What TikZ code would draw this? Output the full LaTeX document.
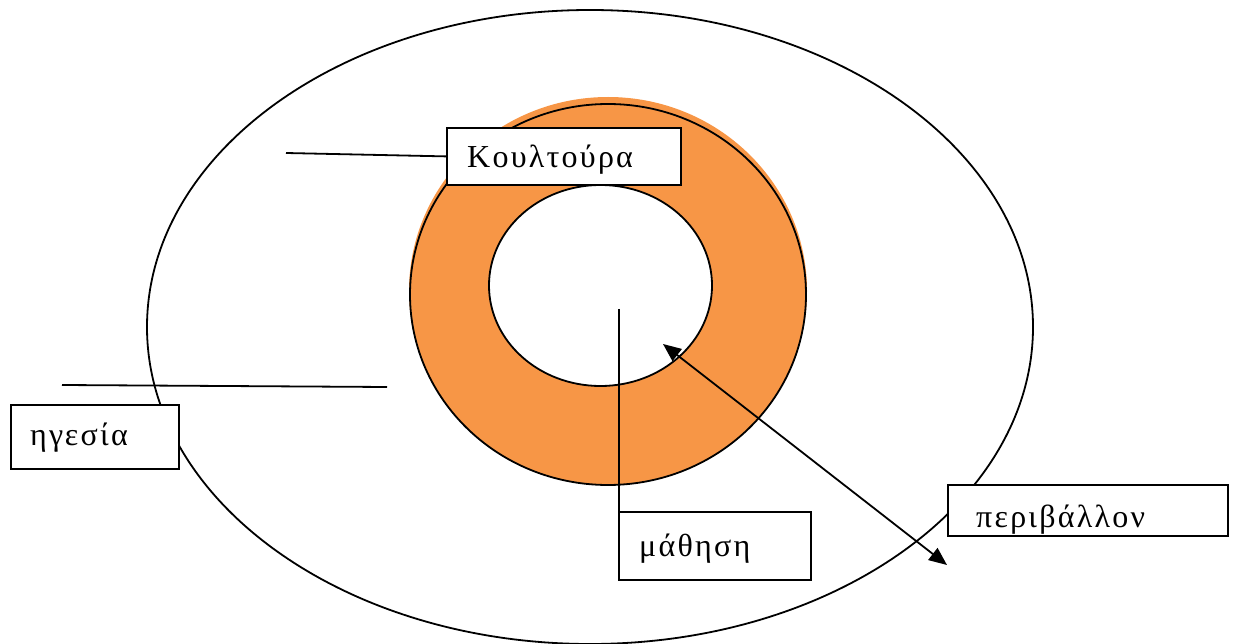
\documentclass[tikz,border=0pt]{standalone}
\usepackage{fontspec}
\newfontfamily\grfont{Liberation Serif}[LetterSpace=7]
\usetikzlibrary{arrows.meta}
\definecolor{ringorange}{HTML}{F79646}
\tikzset{
  outline/.style={draw=black, line width=1.8pt},
  labelbox/.style={draw=black, line width=1.8pt, fill=white, anchor=north west, inner sep=0pt},
  labeltext/.style={anchor=base west, inner sep=0pt, font=\grfont\fontsize{32}{34}\selectfont},
  bigtri/.tip={Triangle[length=18pt,width=15pt]}
}
\begin{document}
\begin{tikzpicture}[x=1pt,y=-1pt]
\useasboundingbox (0,0) rectangle (1235,644);
% outer ellipse
\draw[outline] (590,327) ellipse [x radius=443, y radius=317];
% orange ring
\fill[ringorange] (608,291) ellipse [x radius=199, y radius=194];
\draw[outline] (608,294.5) ellipse [x radius=198, y radius=190.5];
\draw[outline, fill=white] (600.5,285.5) ellipse [x radius=111.5, y radius=100.5];
% boxes
\node[labelbox, minimum width=234pt, minimum height=57pt] (kbox) at (446,127) {};
\node[labelbox, minimum width=168pt, minimum height=64pt] (hbox) at (10,404) {};
\node[labelbox, minimum width=192pt, minimum height=68pt] (mbox) at (618,511) {};
\node[labelbox, minimum width=280pt, minimum height=51pt] (pbox) at (947,484) {};
% texts
\node[labeltext] (ktext) at (467,168) {Κουλτούρα};
\node[labeltext] (htext) at (30,445) {ηγεσία};
\node[labeltext] (mtext) at (639,556) {μάθηση};
\begin{scope}
\clip (pbox.north west) rectangle (pbox.south east);
\node[labeltext] (ptext) at (976,527) {περιβάλλον};
\end{scope}
% connector lines
\coordinate (kstart) at (286,153);
\draw[outline] (kstart) -- (kbox.west);
\coordinate (hstart) at (62,385);
\coordinate (hend) at (387,387);
\draw[outline] (hstart) -- (hend);
\coordinate (mstart) at (619,309);
\draw[outline] (mstart) -- (mstart |- mbox.north);
% double arrow
\coordinate (aup) at (663,344);
\coordinate (adown) at (947,565);
\draw[outline, bigtri-bigtri] (aup) -- (adown);
\end{tikzpicture}
\end{document}
